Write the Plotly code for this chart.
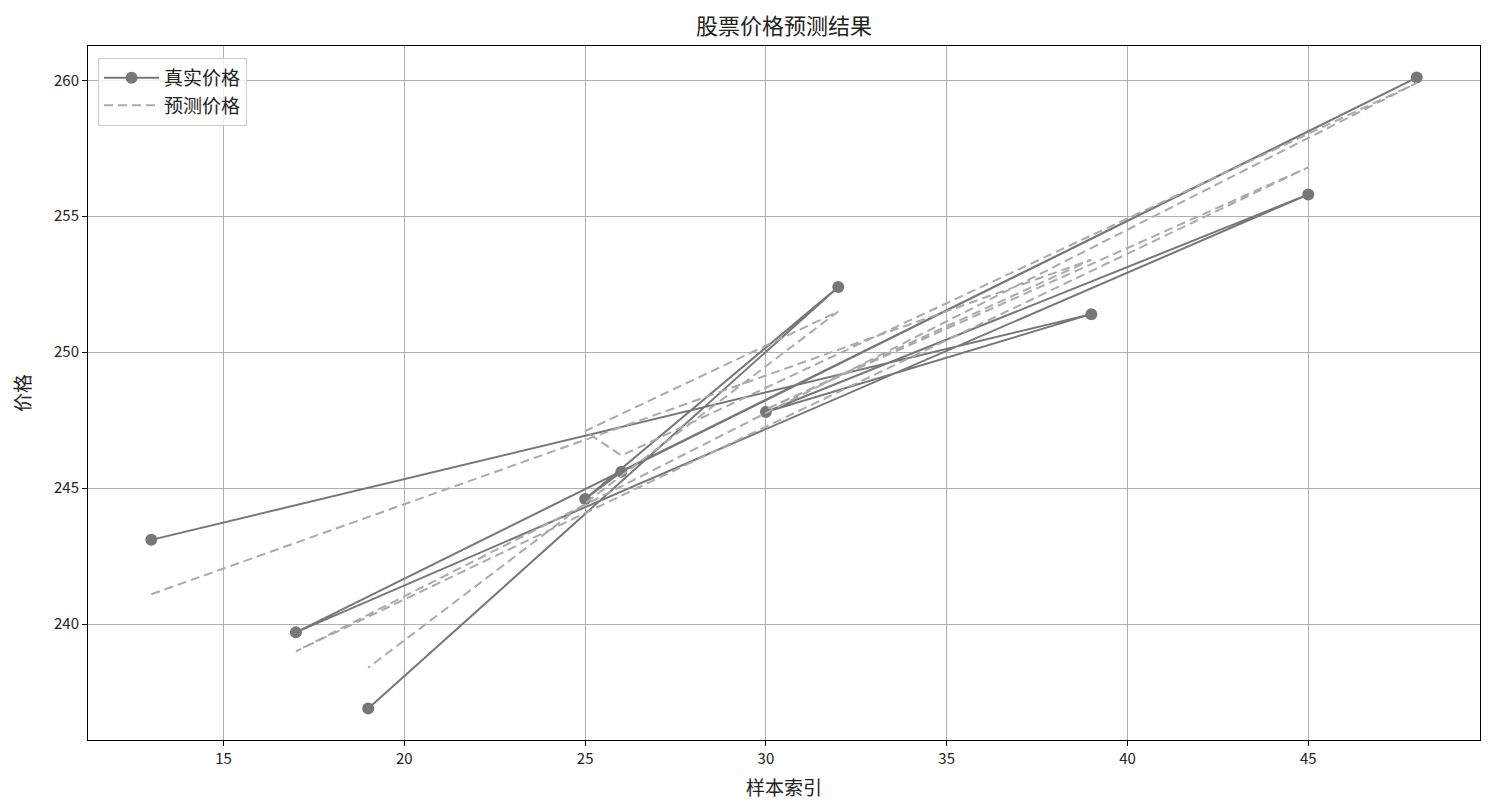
import plotly.graph_objects as go

# Sample indices (test-set order) and prices
sample_idx = [13, 39, 30, 45, 17, 48, 26, 25, 32, 19]
real_price = [243.1, 251.4, 247.8, 255.8, 239.7, 260.1, 245.6, 244.6, 252.4, 236.9]
pred_price = [241.1, 253.4, 247.9, 256.8, 239.0, 259.9, 246.2, 247.1, 251.5, 238.4]

x_ticks = [15, 20, 25, 30, 35, 40, 45]
y_ticks = [240, 245, 250, 255, 260]

FONT = "Noto Sans CJK SC"

fig = go.Figure()
fig.add_trace(go.Scatter(
    x=sample_idx, y=real_price, mode="lines+markers", name="真实价格",
    line=dict(color="#777777", width=2),
    marker=dict(color="#777777", size=12),
))
fig.add_trace(go.Scatter(
    x=sample_idx, y=pred_price, mode="lines", name="预测价格",
    line=dict(color="#aaaaaa", width=2, dash="9px,5px"),
))

axis_common = dict(
    showgrid=True, gridcolor="#b0b0b0", gridwidth=1,
    showline=True, linecolor="black", linewidth=1, mirror=True,
    ticks="outside", ticklen=5, tickcolor="black",
    tickfont=dict(family=FONT, size=15, color="#222"),
    zeroline=False,
)

fig.update_layout(
    width=1494, height=812,
    margin=dict(l=80, r=22, t=38, b=80),
    paper_bgcolor="white", plot_bgcolor="white",
    title=dict(text="股票价格预测结果", x=0.5, xref="paper", xanchor="center",
               y=1 - 18 / 812, yanchor="middle",
               font=dict(family=FONT, size=22, color="#222")),
    xaxis=dict(range=[11.25, 49.75], tickvals=x_ticks,
               title=dict(text="样本索引", font=dict(family=FONT, size=19, color="#222"), standoff=14),
               **axis_common),
    yaxis=dict(range=[235.74, 261.26], tickvals=y_ticks,
               title=dict(text="价格", font=dict(family=FONT, size=19, color="#222"), standoff=20),
               **axis_common),
    legend=dict(x=0.0072, y=0.983, xanchor="left", yanchor="top",
                bgcolor="rgba(255,255,255,0.8)", bordercolor="#cccccc", borderwidth=1,
                font=dict(family=FONT, size=19, color="#222"), tracegroupgap=0,
                itemwidth=55),
    showlegend=True,
)

fig.write_html("out.html")
